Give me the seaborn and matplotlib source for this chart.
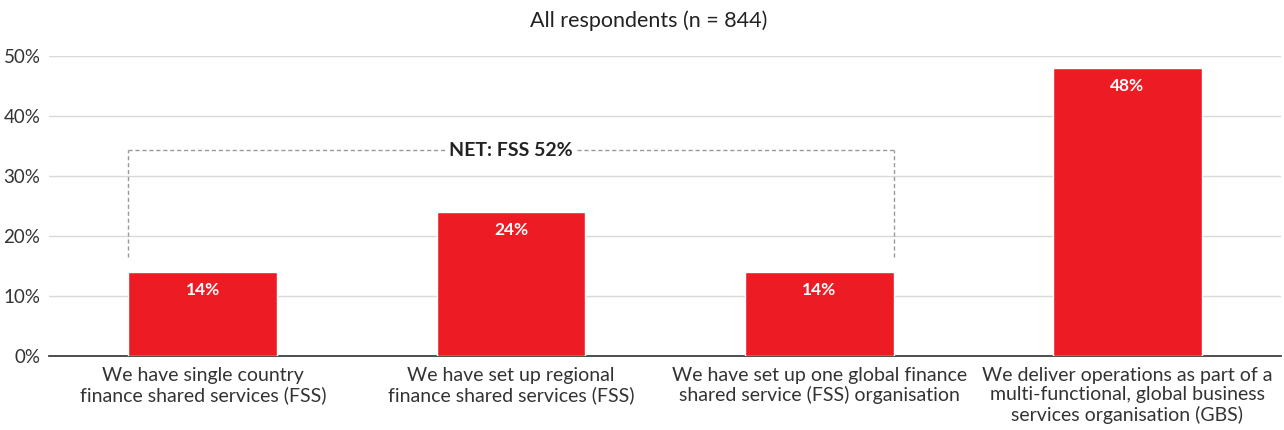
import matplotlib
matplotlib.use("Agg")
import matplotlib.pyplot as plt
import seaborn as sns
import pandas as pd

# data
categories = [
    "We have single country\nfinance shared services (FSS)",
    "We have set up regional\nfinance shared services (FSS)",
    "We have set up one global finance\nshared service (FSS) organisation",
    "We deliver operations as part of a\nmulti-functional, global business\nservices organisation (GBS)",
]
shares = [14, 24, 14, 48]
yticks = [0, 10, 20, 30, 40, 50]
net_label = "NET: FSS 52%"
title = "All respondents (n = 844)"

red = "#ED1C24"
bar_w = 0.483

sns.set_style("white")
plt.rcParams['font.family'] = ['Lato', 'DejaVu Sans']

df = pd.DataFrame({"cat": categories, "pct": shares})

fig = plt.figure(figsize=(12.84, 4.30), dpi=100)
ax = fig.add_axes([0.038, 0.172, 0.960, 0.698])

sns.barplot(data=df, x="cat", y="pct", color=red, width=bar_w,
            saturation=1, ax=ax, zorder=3)

ax.set_ylim(0, 50)
ax.set_xlim(-0.5, 3.5)
ax.set_yticks(yticks)
ax.set_yticklabels([f"{t}%" for t in yticks], fontsize=13.5, color="#333333")
ax.tick_params(axis="x", labelsize=14, colors="#333333", length=0, pad=8)
ax.tick_params(axis="y", length=0, pad=6)
for lbl in ax.get_xticklabels():
    lbl.set_linespacing(1.15)
ax.yaxis.grid(True, color="#d9d9d9", linewidth=1, zorder=0)
ax.set_axisbelow(True)
for s in ["top", "right", "left"]:
    ax.spines[s].set_visible(False)
ax.spines["bottom"].set_color("#404040")
ax.spines["bottom"].set_linewidth(1.3)
ax.set_xlabel("")
ax.set_ylabel("")

for i, v in enumerate(shares):
    ax.annotate(f"{v}%", (i, v), xytext=(0, -13), textcoords="offset points",
                ha="center", va="center", color="white", fontsize=12.5,
                fontweight="bold")

# NET bracket over the first three bars
x0 = 0 - bar_w / 2
x1 = 2 + bar_w / 2
ytop = 34.3
ybot = 16.5
dash = dict(color="#9a9a9a", linewidth=1, linestyle=(0, (3, 2)), zorder=4)
ax.plot([x0, x0], [ybot, ytop], **dash)
ax.plot([x1, x1], [ybot, ytop], **dash)
ax.plot([x0, 0.785], [ytop, ytop], **dash)
ax.plot([1.215, x1], [ytop, ytop], **dash)
ax.text(1, ytop, net_label, ha="center", va="center", fontsize=14,
        fontweight="bold", color="#222222", zorder=5)

fig.text(0.505, 0.953, title, ha="center", va="center", fontsize=15.5,
         color="#222222")

fig.savefig("out.png", dpi=100)
